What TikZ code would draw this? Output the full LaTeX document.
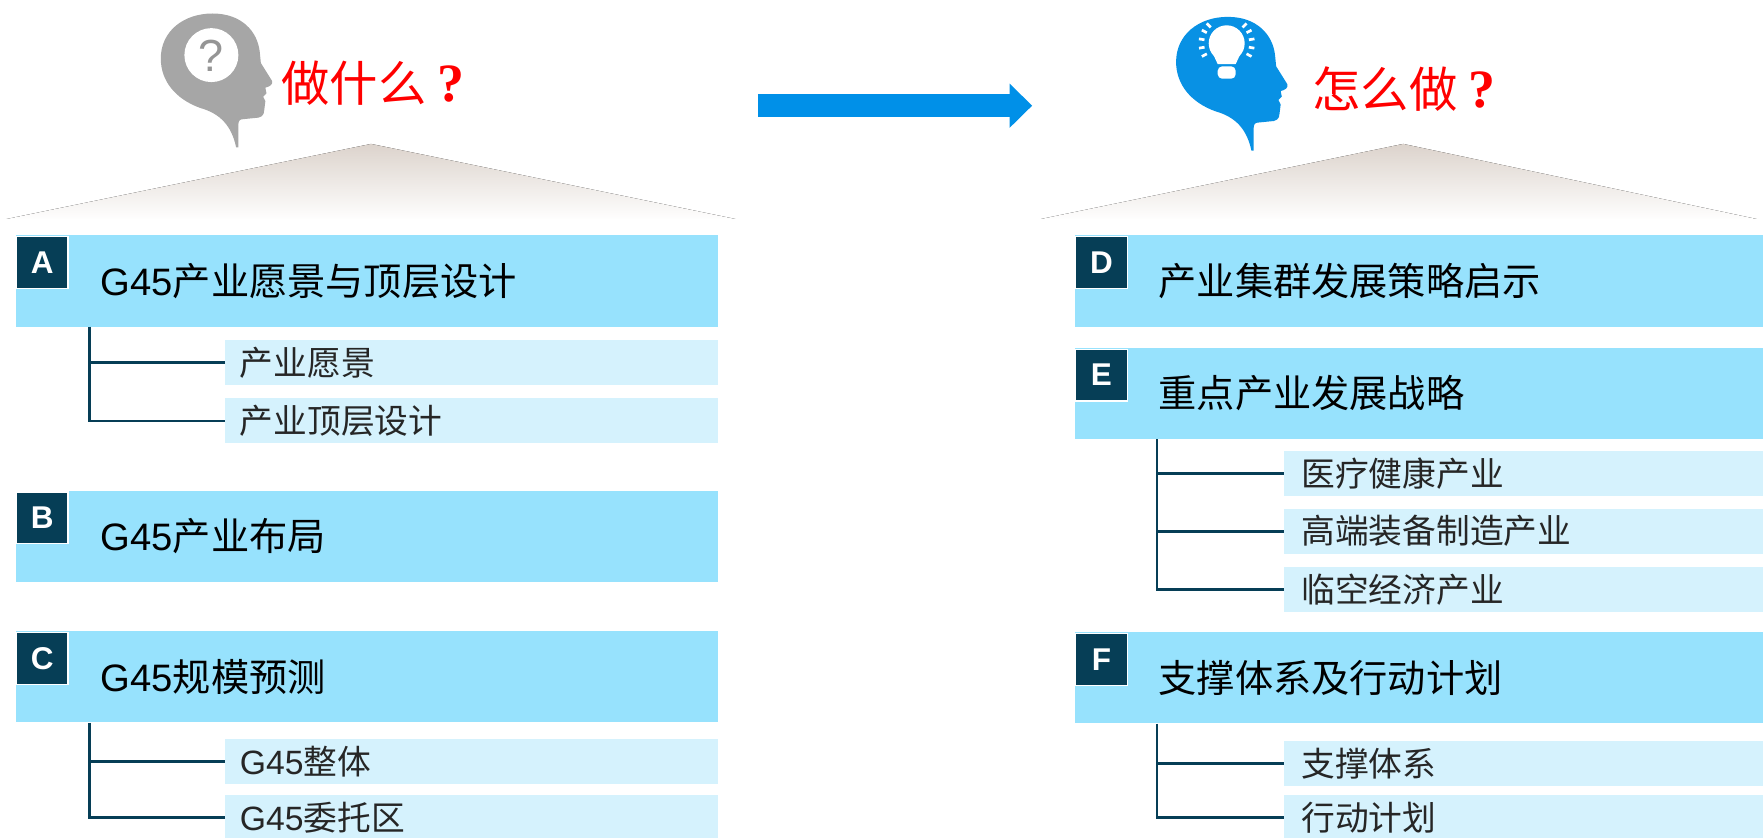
\documentclass[tikz,border=0pt]{standalone}
\usepackage{fontspec}
\setmainfont{Liberation Sans}
\newfontfamily\cjk{Noto Sans CJK SC}
\newfontfamily\qfont{Liberation Serif}
\usetikzlibrary{positioning,arrows.meta}
\definecolor{barblue}{RGB}{151,226,253}
\definecolor{subblue}{RGB}{213,242,253}
\definecolor{tagnavy}{RGB}{6,62,86}
\definecolor{arrowblue}{RGB}{0,144,232}
\definecolor{headgray}{RGB}{166,166,166}
\definecolor{headblue}{RGB}{8,145,228}
\definecolor{roofgray}{RGB}{220,211,204}
\newcommand\askmark{\hspace{5pt}{\qfont\bfseries\fontsize{24}{24}\selectfont ?}}
\tikzset{
  mainbar/.style={fill=barblue, anchor=north west, minimum height=40.5pt, inner sep=0pt},
  subbar/.style={fill=subblue, anchor=north west, minimum height=20pt, inner sep=0pt},
  tagbox/.style={fill=tagnavy, draw=white, line width=0.6pt, text=white, anchor=north west,
    minimum size=23pt, inner sep=0pt, font=\bfseries\fontsize{14}{14}\selectfont},
  maintext/.style={anchor=west, inner sep=0pt, font=\cjk\fontsize{17}{17}\selectfont},
  subtext/.style={anchor=west, inner sep=0pt, text=black!85, font=\cjk\fontsize{15}{15}\selectfont},
  link/.style={draw=tagnavy, line width=1.3pt},
  asktitle/.style={anchor=west, inner sep=0pt, text=red, font=\cjk\fontsize{21.5}{21.5}\selectfont},
  head/.pic={
    \path[pic actions] (210,131) .. controls (206,112) and (196,101) .. (178,96)
      .. controls (156,88) and (143,72) .. (143,52)
      .. controls (143,28) and (163,12) .. (189,12)
      .. controls (215,12) and (229,28) .. (231,46)
      -- (232,56) -- (242,72)
      .. controls (243,75) and (240,77) .. (236,78)
      -- (237,83) -- (234,86) -- (236,90) -- (235,98)
      .. controls (235,103) and (232,105) .. (226,105)
      -- (216,106) .. controls (213,106) and (212,108) .. (212,111)
      -- (212,131) -- cycle;
  }
}
\begin{document}
\begin{tikzpicture}[x=0.5pt,y=-0.5pt]
\useasboundingbox (0,0) rectangle (1568,745);
% heads
\pic[fill=headgray] at (0,0) {head};
\fill[white] (188,49) circle (24);
\node[text=headgray!90!black, font=\fontsize{20}{20}\selectfont] (qmark) at (188,50) {?};
\pic[fill=headblue] at (903,3) {head};
\fill[white] (1091,38.5) circle (16);
\fill[white] (1077,44) -- (1105,44) -- (1099,57) -- (1083,57) -- cycle;
\fill[white, rounded corners=2pt] (1083,59) rectangle (1099,70);
\begin{scope}[shift={(1091,38.5)}]
\foreach \a in {-135,-152,-171,170,152,-45,-28,-9,10,28}
  \draw[white, line width=1.2pt] (\a:20) -- (\a:25);
\end{scope}
\node[asktitle] (what) at (250,74) {做什么\askmark};
\node[asktitle] (how) at (1167,79) {怎么做\askmark};
% arrow
\coordinate (go) at (674,94);
\coordinate (to) at (918,94);
\draw[arrowblue, line width=10pt, -{Triangle[length=10pt,width=19pt]}] (go) -- (to);
% roofs
\fill[top color=roofgray, bottom color=white] (0,196) -- (330,128) -- (660,196) -- cycle;
\fill[top color=roofgray, bottom color=white] (920,196) -- (1248,128) -- (1568,196) -- cycle;
\draw[white, line width=2pt] (0,197) -- (1568,197);
%
\node[mainbar, minimum width=312pt] (A) at (14,209) {};
\node[tagbox] (tA) at (14,210) {A};
\node[maintext, right=37.5pt of A.west] {\textrm{G45}产业愿景与顶层设计};
\node[subbar, minimum width=219pt] (a1) at (200,302) {};
\node[subtext, right=6.5pt of a1.west] {产业愿景};
\node[subbar, minimum width=219pt] (a2) at (200,354) {};
\node[subtext, right=6.5pt of a2.west] {产业顶层设计};
\draw[link] ([xshift=33pt]A.south west) |- (a1.west);
\draw[link] ([xshift=33pt]A.south west) |- (a2.west);
%
\node[mainbar, minimum width=312pt] (B) at (14,436) {};
\node[tagbox] (tB) at (14,437) {B};
\node[maintext, right=37.5pt of B.west] {\textrm{G45}产业布局};
%
\node[mainbar, minimum width=312pt] (C) at (14,561) {};
\node[tagbox] (tC) at (14,562) {C};
\node[maintext, right=37.5pt of C.west] {\textrm{G45}规模预测};
\node[subbar, minimum width=219pt] (c1) at (200,657) {};
\node[subtext, right=6.5pt of c1.west] {\textrm{G45}整体};
\node[subbar, minimum width=219pt] (c2) at (200,707) {};
\node[subtext, right=6.5pt of c2.west] {\textrm{G45}委托区};
\draw[link] ([xshift=33pt]C.south west) |- (c1.west);
\draw[link] ([xshift=33pt]C.south west) |- (c2.west);
%
\node[mainbar, minimum width=306pt] (D) at (956,209) {};
\node[tagbox] (tD) at (956,210) {D};
\node[maintext, right=37pt of D.west] {产业集群发展策略启示};
%
\node[mainbar, minimum width=306pt] (E) at (956,309) {};
\node[tagbox] (tE) at (956,310) {E};
\node[maintext, right=37pt of E.west] {重点产业发展战略};
\node[subbar, minimum width=213pt] (e1) at (1142,401) {};
\node[subtext, right=7.5pt of e1.west] {医疗健康产业};
\node[subbar, minimum width=213pt] (e2) at (1142,452) {};
\node[subtext, right=7.5pt of e2.west] {高端装备制造产业};
\node[subbar, minimum width=213pt] (e3) at (1142,504) {};
\node[subtext, right=7.5pt of e3.west] {临空经济产业};
\draw[link] ([xshift=36.5pt]E.south west) |- (e1.west);
\draw[link] ([xshift=36.5pt]E.south west) |- (e2.west);
\draw[link] ([xshift=36.5pt]E.south west) |- (e3.west);
%
\node[mainbar, minimum width=306pt] (F) at (956,562) {};
\node[tagbox] (tF) at (956,563) {F};
\node[maintext, right=37pt of F.west] {支撑体系及行动计划};
\node[subbar, minimum width=213pt] (f1) at (1142,659) {};
\node[subtext, right=7.5pt of f1.west] {支撑体系};
\node[subbar, minimum width=213pt] (f2) at (1142,707) {};
\node[subtext, right=7.5pt of f2.west] {行动计划};
\draw[link] ([xshift=36.5pt]F.south west) |- (f1.west);
\draw[link] ([xshift=36.5pt]F.south west) |- (f2.west);
\end{tikzpicture}
\end{document}
